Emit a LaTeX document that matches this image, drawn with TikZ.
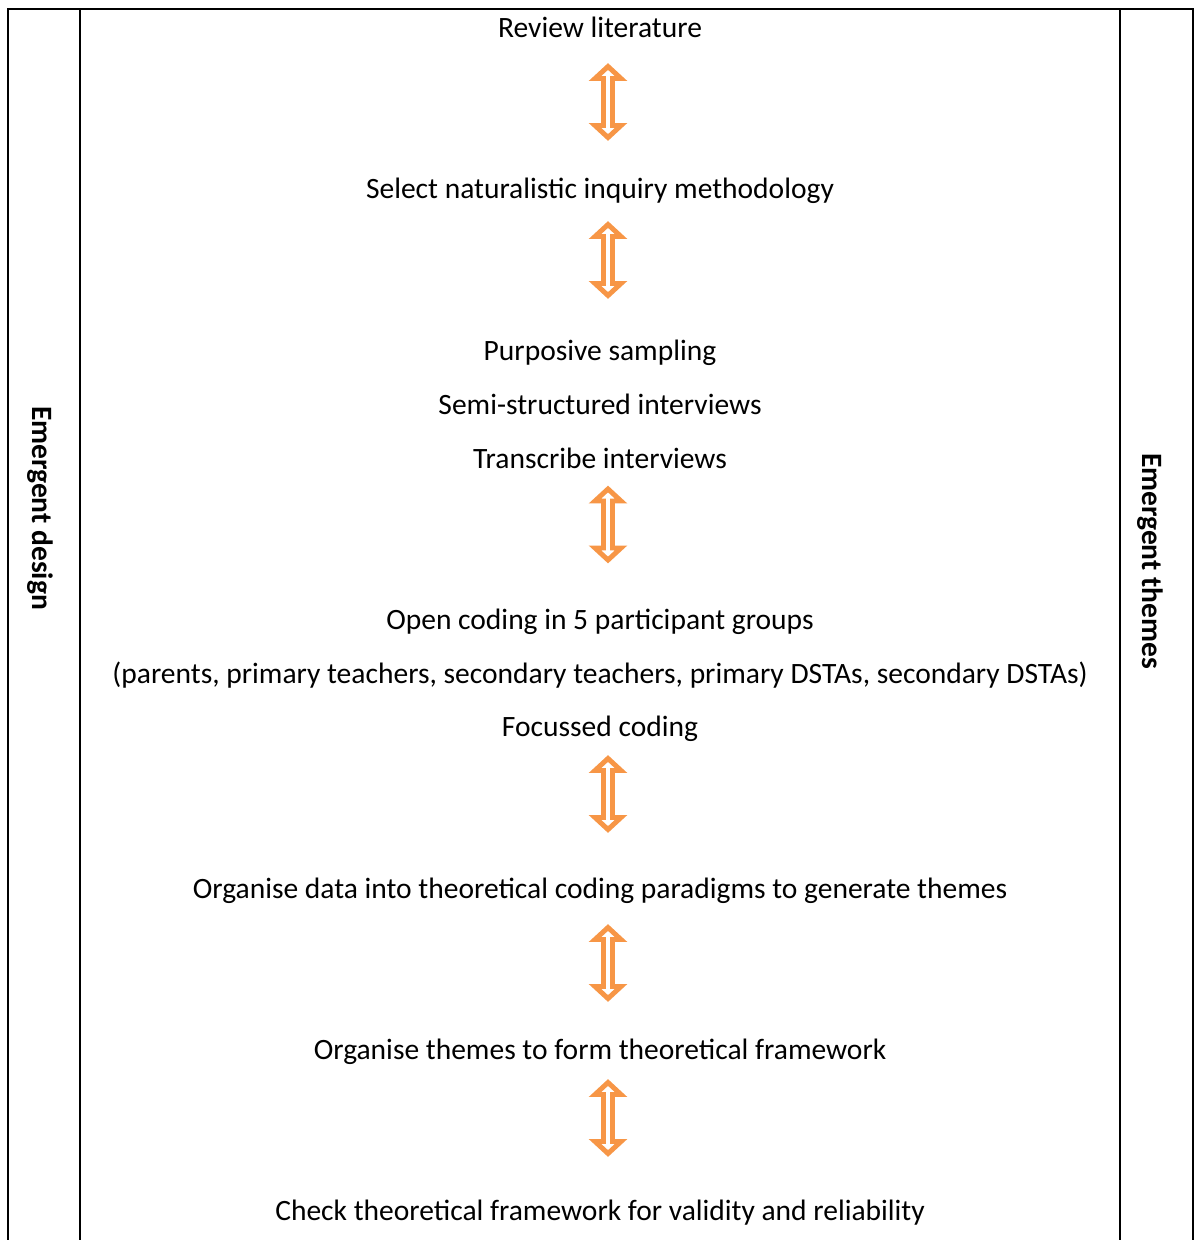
\documentclass[tikz,border=0pt]{standalone}
\usepackage{fontspec}
\setmainfont{Carlito}

\definecolor{stepOrange}{HTML}{F79646}

\begin{document}
\begin{tikzpicture}[
            x=0.02cm, y=-0.02cm,
            frame/.style={line width=1.1pt, black},
            stage/.style={
                font=\fontsize{16.8}{19}\selectfont,
                inner sep=0pt,
                anchor=base
            },
            sidelabel/.style={
                font=\fontsize{16.8}{19}\selectfont\bfseries,
                rotate=-90,
                inner sep=0pt
            },
            twoway/.pic={
                \draw[stepOrange, fill=white, line width=2.8pt, line join=miter]
                    (0,-35.5) -- (13,-23.5) -- (4.5,-23.5) -- (4.5,23.5)
                    -- (13,23.5) -- (0,35.5) -- (-13,23.5) -- (-4.5,23.5)
                    -- (-4.5,-23.5) -- (-13,-23.5) -- cycle;
            }
        ]
        \useasboundingbox (0,0) rectangle (1195,1240);
        % table frame
        \draw[frame] (8,1240) -- (8,9) -- (1193,9) -- (1193,1240);
        \draw[frame] (80,9) -- (80,1240);
        \draw[frame] (1120,9) -- (1120,1240);
        \node[sidelabel] (design) at (40,508) {Emergent design};
        \node[sidelabel] (themes) at (1150,561) {Emergent themes};
        % stages (placed at their baselines)
        \node[stage] (lit) at (600,38) {Review literature};
        \node[stage] (method) at (600,199) {Select naturalistic inquiry methodology};
        \node[stage] (sampling) at (600,360) {Purposive sampling};
        \node[stage] (interviews) at (600,414) {Semi-structured interviews};
        \node[stage] (transcribe) at (600,468) {Transcribe interviews};
        \node[stage] (opencoding) at (600,629) {Open coding in 5 participant groups};
        \node[stage] (groups) at (600,683) {(parents, primary teachers, secondary teachers, primary DSTAs, secondary DSTAs)};
        \node[stage] (focussed) at (600,736) {Focussed coding};
        \node[stage] (paradigms) at (600,898) {Organise data into theoretical coding paradigms to generate themes};
        \node[stage] (framework) at (600,1059) {Organise themes to form theoretical framework};
        \node[stage] (check) at (600,1220) {Check theoretical framework for validity and reliability};
        % arrows between stages
        \pic at (608,102) {twoway};
        \pic at (608,260) {twoway};
        \pic at (608,524.5) {twoway};
        \pic at (608,794) {twoway};
        \pic at (608,963) {twoway};
        \pic at (608,1118) {twoway};
        \end{tikzpicture}
\end{document}
